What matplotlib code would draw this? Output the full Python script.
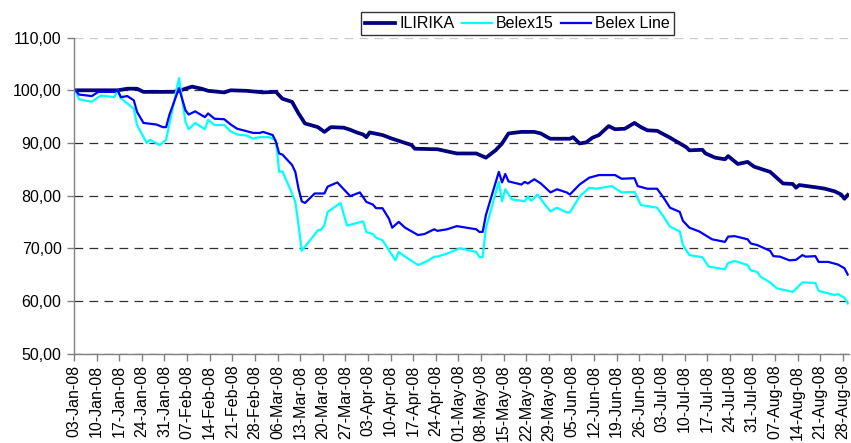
import matplotlib
matplotlib.use("Agg")
import matplotlib.pyplot as plt
import matplotlib.dates as mdates
from matplotlib.ticker import FuncFormatter
import pandas as pd

ilirika_dates = [
    "2008-01-03", "2008-01-16", "2008-01-19", "2008-01-22", "2008-01-24", "2008-02-02", "2008-02-04",
    "2008-02-08", "2008-02-11", "2008-02-13", "2008-02-18", "2008-02-20", "2008-02-25", "2008-03-01",
    "2008-03-05", "2008-03-07", "2008-03-10", "2008-03-12", "2008-03-14", "2008-03-18", "2008-03-20",
    "2008-03-22", "2008-03-26", "2008-03-28", "2008-03-30", "2008-04-01", "2008-04-02", "2008-04-03",
    "2008-04-07", "2008-04-10", "2008-04-14", "2008-04-16", "2008-04-17", "2008-04-24", "2008-04-27",
    "2008-04-30", "2008-05-06", "2008-05-09", "2008-05-12", "2008-05-14", "2008-05-16", "2008-05-20",
    "2008-05-24", "2008-05-26", "2008-05-28", "2008-05-29", "2008-06-04", "2008-06-05", "2008-06-07",
    "2008-06-09", "2008-06-11", "2008-06-13", "2008-06-16", "2008-06-18", "2008-06-21", "2008-06-24",
    "2008-06-26", "2008-06-28", "2008-07-01", "2008-07-05", "2008-07-10", "2008-07-11", "2008-07-15",
    "2008-07-16", "2008-07-19", "2008-07-22", "2008-07-23", "2008-07-26", "2008-07-29", "2008-07-31",
    "2008-08-05", "2008-08-07", "2008-08-09", "2008-08-12", "2008-08-13", "2008-08-14", "2008-08-20",
    "2008-08-22", "2008-08-25", "2008-08-27", "2008-08-28", "2008-08-29",
]
ilirika = [
    100.0, 100.0, 100.3, 100.3, 99.7, 99.7, 99.9,
    100.7, 100.3, 99.9, 99.6, 100.0, 99.9, 99.6,
    99.7, 98.4, 97.8, 95.6, 93.7, 93.0, 92.1,
    93.0, 92.9, 92.5, 92.0, 91.6, 91.1, 92.0,
    91.5, 90.8, 90.0, 89.6, 88.9, 88.8, 88.4,
    88.0, 88.0, 87.2, 88.6, 89.9, 91.8, 92.1,
    92.1, 91.8, 91.1, 90.8, 90.8, 91.1, 89.9,
    90.1, 91.0, 91.5, 93.2, 92.6, 92.7, 93.8,
    93.0, 92.4, 92.3, 91.0, 89.2, 88.6, 88.7,
    88.0, 87.2, 86.9, 87.5, 86.0, 86.4, 85.5,
    84.5, 83.4, 82.3, 82.2, 81.5, 82.0, 81.5,
    81.3, 80.8, 80.2, 79.4, 80.1,
]

belex15_dates = [
    "2008-01-03", "2008-01-04", "2008-01-08", "2008-01-10", "2008-01-11", "2008-01-15", "2008-01-16",
    "2008-01-17", "2008-01-21", "2008-01-22", "2008-01-25", "2008-01-26", "2008-01-29", "2008-01-31",
    "2008-02-04", "2008-02-06", "2008-02-07", "2008-02-09", "2008-02-12", "2008-02-13", "2008-02-15",
    "2008-02-18", "2008-02-20", "2008-02-22", "2008-02-25", "2008-02-27", "2008-02-28", "2008-03-01",
    "2008-03-03", "2008-03-05", "2008-03-06", "2008-03-07", "2008-03-10", "2008-03-11", "2008-03-12",
    "2008-03-13", "2008-03-18", "2008-03-19", "2008-03-20", "2008-03-21", "2008-03-25", "2008-03-27",
    "2008-04-01", "2008-04-02", "2008-04-04", "2008-04-05", "2008-04-07", "2008-04-09", "2008-04-11",
    "2008-04-12", "2008-04-14", "2008-04-18", "2008-04-21", "2008-04-23", "2008-04-24", "2008-04-27",
    "2008-05-01", "2008-05-06", "2008-05-07", "2008-05-08", "2008-05-09", "2008-05-13", "2008-05-14",
    "2008-05-15", "2008-05-17", "2008-05-21", "2008-05-22", "2008-05-23", "2008-05-25", "2008-05-27",
    "2008-05-29", "2008-05-31", "2008-06-03", "2008-06-04", "2008-06-07", "2008-06-10", "2008-06-12",
    "2008-06-17", "2008-06-20", "2008-06-24", "2008-06-26", "2008-07-01", "2008-07-03", "2008-07-05",
    "2008-07-08", "2008-07-09", "2008-07-11", "2008-07-15", "2008-07-17", "2008-07-22", "2008-07-23",
    "2008-07-25", "2008-07-29", "2008-07-30", "2008-08-01", "2008-08-02", "2008-08-05", "2008-08-07",
    "2008-08-12", "2008-08-15", "2008-08-19", "2008-08-20", "2008-08-25", "2008-08-26", "2008-08-28",
    "2008-08-29",
]
belex15 = [
    100.0, 98.3, 97.8, 98.7, 99.0, 98.7, 100.0,
    98.5, 96.5, 93.4, 90.0, 90.6, 89.6, 90.6,
    102.3, 94.0, 92.6, 93.8, 92.6, 94.4, 93.4,
    93.4, 92.2, 91.6, 91.4, 90.8, 91.0, 91.1,
    91.1, 90.5, 84.5, 84.6, 80.4, 78.8, 74.4,
    69.5, 73.4, 73.5, 74.4, 76.9, 78.6, 74.3,
    75.1, 73.1, 72.7, 72.0, 71.5, 69.6, 67.7,
    69.3, 68.4, 66.8, 67.6, 68.4, 68.4, 69.0,
    70.0, 69.3, 68.3, 68.3, 73.8, 82.6, 78.9,
    81.2, 79.3, 78.9, 79.8, 79.0, 80.2, 78.5,
    77.0, 77.7, 76.8, 76.8, 79.8, 81.5, 81.3,
    81.8, 80.6, 80.7, 78.2, 77.7, 76.0, 74.1,
    73.2, 70.6, 68.7, 68.3, 66.5, 66.0, 67.2,
    67.6, 66.8, 65.8, 65.5, 64.6, 63.5, 62.4,
    61.7, 63.5, 63.4, 61.9, 61.1, 61.3, 60.6,
    59.5,
]

belex_line_dates = [
    "2008-01-03", "2008-01-04", "2008-01-08", "2008-01-10", "2008-01-15", "2008-01-16", "2008-01-17",
    "2008-01-19", "2008-01-21", "2008-01-22", "2008-01-24", "2008-01-28", "2008-01-30", "2008-01-31",
    "2008-02-01", "2008-02-04", "2008-02-06", "2008-02-07", "2008-02-09", "2008-02-12", "2008-02-13",
    "2008-02-15", "2008-02-18", "2008-02-20", "2008-02-22", "2008-02-27", "2008-02-29", "2008-03-01",
    "2008-03-04", "2008-03-05", "2008-03-06", "2008-03-07", "2008-03-10", "2008-03-11", "2008-03-12",
    "2008-03-13", "2008-03-14", "2008-03-17", "2008-03-20", "2008-03-21", "2008-03-24", "2008-03-28",
    "2008-03-31", "2008-04-02", "2008-04-04", "2008-04-05", "2008-04-07", "2008-04-09", "2008-04-10",
    "2008-04-12", "2008-04-14", "2008-04-16", "2008-04-18", "2008-04-20", "2008-04-23", "2008-04-24",
    "2008-04-27", "2008-04-30", "2008-05-06", "2008-05-07", "2008-05-08", "2008-05-09", "2008-05-13",
    "2008-05-14", "2008-05-15", "2008-05-16", "2008-05-20", "2008-05-21", "2008-05-22", "2008-05-24",
    "2008-05-26", "2008-05-29", "2008-05-31", "2008-06-03", "2008-06-04", "2008-06-07", "2008-06-10",
    "2008-06-13", "2008-06-18", "2008-06-20", "2008-06-24", "2008-06-25", "2008-06-28", "2008-07-01",
    "2008-07-03", "2008-07-05", "2008-07-08", "2008-07-09", "2008-07-11", "2008-07-14", "2008-07-18",
    "2008-07-22", "2008-07-23", "2008-07-25", "2008-07-29", "2008-07-30", "2008-08-01", "2008-08-05",
    "2008-08-06", "2008-08-08", "2008-08-11", "2008-08-13", "2008-08-15", "2008-08-16", "2008-08-19",
    "2008-08-20", "2008-08-23", "2008-08-26", "2008-08-28", "2008-08-29",
]
belex_line = [
    100.0, 99.2, 98.9, 99.7, 99.7, 100.0, 98.7,
    98.9, 98.1, 95.9, 93.8, 93.5, 93.0, 93.0,
    95.3, 100.4, 96.2, 95.4, 96.0, 94.9, 95.6,
    94.6, 94.5, 93.5, 92.7, 91.9, 91.9, 92.1,
    91.5, 90.2, 88.0, 87.8, 85.8, 84.5, 81.3,
    78.9, 78.6, 80.4, 80.4, 81.7, 82.5, 79.9,
    80.6, 78.8, 78.3, 77.6, 77.6, 75.6, 73.9,
    75.0, 73.9, 73.2, 72.5, 72.7, 73.6, 73.3,
    73.6, 74.2, 73.6, 73.1, 73.1, 76.3, 84.5,
    82.5, 84.1, 82.7, 82.1, 82.6, 82.3, 83.1,
    82.3, 80.6, 81.2, 80.6, 80.2, 82.1, 83.4,
    83.9, 83.9, 83.2, 83.3, 81.8, 81.3, 81.3,
    79.6, 77.7, 76.9, 75.2, 73.9, 73.2, 71.7,
    71.2, 72.2, 72.3, 71.7, 70.9, 70.6, 69.5,
    68.5, 68.4, 67.7, 67.8, 68.7, 68.4, 68.5,
    67.4, 67.4, 66.9, 66.2, 65.0,
]

y_ticks = [50, 60, 70, 80, 90, 100, 110]


def main():
    plt.rcParams["font.family"] = ["Liberation Sans", "DejaVu Sans"]
    plt.rcParams["font.size"] = 11.5

    fig = plt.figure(figsize=(8.51, 4.43), dpi=100)
    ax = fig.add_axes([0.087, 0.202, 0.911, 0.713])

    half_day = pd.Timedelta(hours=12)
    series = [
        ("ILIRIKA", ilirika_dates, ilirika, "#000080", 2.7),
        ("Belex15", belex15_dates, belex15, "#00FFFF", 1.6),
        ("Belex Line", belex_line_dates, belex_line, "#0000FF", 1.6),
    ]
    for name, dates, vals, color, lw in series:
        x = pd.to_datetime(dates) + half_day
        ax.plot(x, vals, color=color, lw=lw, label=name, solid_joinstyle="round")

    ax.set_ylim(50, 110)
    ax.set_yticks(y_ticks)
    ax.yaxis.set_major_formatter(FuncFormatter(lambda v, _: f"{v:.2f}".replace(".", ",")))
    ax.set_xlim(pd.Timestamp("2008-01-03"), pd.Timestamp("2008-08-30"))

    week_ticks = pd.date_range("2008-01-03", "2008-08-28", freq="7D")
    ax.set_xticks(week_ticks)
    ax.xaxis.set_major_formatter(mdates.DateFormatter("%d-%b-%y"))
    plt.setp(ax.get_xticklabels(), rotation=90)

    ax.grid(axis="y", color="#303030", lw=0.9, linestyle=(0, (7, 5)))
    ax.get_ygridlines()[-1].set_color("#c8c8c8")
    ax.set_axisbelow(True)

    for side in ("top", "right"):
        ax.spines[side].set_visible(False)
    for side in ("left", "bottom"):
        ax.spines[side].set_color("#808080")
        ax.spines[side].set_linewidth(1.0)
    ax.tick_params(axis="both", colors="#808080", labelcolor="black", length=5, width=1.0)
    ax.tick_params(axis="y", pad=4)
    ax.tick_params(axis="x", pad=3)

    leg = fig.legend(
        loc="center",
        bbox_to_anchor=(0.608, 0.946),
        ncol=3,
        frameon=True,
        fancybox=False,
        edgecolor="black",
        handlelength=1.9,
        handletextpad=0.25,
        columnspacing=0.45,
        borderpad=0.25,
        borderaxespad=0.2,
        fontsize=11.5,
    )
    leg.get_frame().set_linewidth(1.0)

    fig.savefig("out.png", dpi=100, facecolor="white")
    plt.close(fig)


if __name__ == "__main__":
    main()
